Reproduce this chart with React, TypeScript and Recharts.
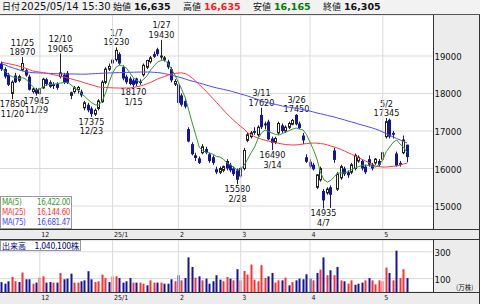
import { ComposedChart, Bar, Line, XAxis, YAxis, CartesianGrid, ReferenceLine } from "recharts";

// trading days on screen, 2024/11/15 .. 2025/05/14
const dates = [
  "11/15", "11/18", "11/19", "11/20", "11/21", "11/22", "11/25", "11/26", "11/27", "11/28", "11/29",
  "12/2", "12/3", "12/4", "12/5", "12/6", "12/9", "12/10", "12/11", "12/12", "12/13",
  "12/16", "12/17", "12/18", "12/19", "12/20", "12/23", "12/24", "12/25", "12/26", "12/27",
  "12/30", "1/6", "1/7", "1/8", "1/9", "1/10", "1/14", "1/15", "1/16", "1/17",
  "1/20", "1/21", "1/22", "1/23", "1/24", "1/27", "1/28", "1/29", "1/30", "1/31",
  "2/3", "2/4", "2/5", "2/6", "2/7", "2/10", "2/12", "2/13", "2/14", "2/17",
  "2/18", "2/19", "2/20", "2/21", "2/25", "2/26", "2/27", "2/28", "3/3", "3/4",
  "3/5", "3/6", "3/7", "3/10", "3/11", "3/12", "3/13", "3/14", "3/17", "3/18",
  "3/19", "3/21", "3/24", "3/25", "3/26", "3/27", "3/28", "3/31", "4/1", "4/2",
  "4/3", "4/4", "4/7", "4/8", "4/9", "4/10", "4/11", "4/14", "4/15", "4/16",
  "4/17", "4/18", "4/21", "4/22", "4/23", "4/24", "4/25", "4/28", "4/30", "5/1",
  "5/2", "5/7", "5/8", "5/9", "5/12", "5/13", "5/14",
];

const opens = [
  18800, 18650, 18500, 18000, 18480, 18350, 18630, 18620, 18450, 18050, 18100,
  18000, 18150, 18380, 18300, 18250, 18250, 18450, 18500, 18550, 17950,
  18050, 18100, 18050, 17620, 17700, 17600, 17450, 17600, 17780, 18300,
  18650, 18900, 18900, 19050, 18700, 18450, 18400, 18350, 18400, 18320,
  18500, 18700, 18850, 19050, 19180, 18980, 18900, 18850, 18650, 18250,
  18250, 17950, 17800, 17050, 16650, 16350, 16270, 16420, 16520, 16380,
  16300, 15980, 15900, 15950, 16200, 16100, 16000, 15950, 15800, 16000,
  16750, 16850, 17000, 16900, 17430, 17200, 17250, 16800, 16700, 16950,
  17150, 17000, 17100, 17180, 17430, 17200, 16880, 16300, 16180, 16100,
  15500, 15700, 15400, 15350, 15500, 16480, 15450, 15750, 16000, 15900,
  15900, 16000, 16200, 16200, 16050, 16250, 16100, 16150, 16200, 16250,
  16850, 17300, 16950, 16400, 16150, 16420, 16635,
];

const highs = [
  18850, 18700, 18550, 18350, 18550, 18500, 18970, 18680, 18500, 18150, 18150,
  18150, 18420, 18420, 18350, 18300, 18300, 19065, 18550, 18600, 18050,
  18200, 18200, 18100, 17800, 17750, 17650, 17600, 17850, 18350, 18700,
  18800, 18950, 19230, 19100, 18750, 18500, 18450, 18400, 18420, 18380,
  18800, 18900, 19000, 19120, 19220, 19430, 19000, 18900, 18700, 18380,
  18300, 18000, 17850, 17100, 16700, 16420, 16320, 16650, 16580, 16420,
  16350, 16050, 16050, 16080, 16250, 16150, 16050, 16000, 16050, 16550,
  16950, 17000, 17100, 17150, 17620, 17250, 17300, 16850, 16850, 17250,
  17200, 17150, 17250, 17320, 17450, 17250, 16950, 16380, 16250, 16150,
  15850, 16050, 15450, 15500, 15550, 16550, 15900, 16100, 16050, 15950,
  16150, 16400, 16350, 16250, 16100, 16350, 16150, 16280, 16250, 16450,
  17345, 17330, 17000, 16450, 16200, 16880, 16635,
];

const lows = [
  18600, 18400, 18200, 17850, 18280, 18300, 18600, 18450, 18080, 18000, 17945,
  17980, 18120, 18200, 18150, 18120, 18100, 18400, 18250, 18250, 17850,
  18000, 18000, 17900, 17550, 17500, 17375, 17400, 17550, 17750, 18250,
  18600, 18700, 18850, 18750, 18350, 18250, 18220, 18170, 18200, 18230,
  18450, 18650, 18800, 18950, 19000, 18900, 18850, 18650, 18300, 18200,
  17700, 17650, 17600, 16700, 16350, 16200, 16120, 16380, 16380, 16150,
  16100, 15850, 15850, 15900, 15950, 15900, 15800, 15580, 15750, 15950,
  16700, 16800, 16900, 16850, 17050, 17050, 16750, 16490, 16650, 16900,
  16950, 16950, 17050, 17150, 17150, 17050, 16650, 16150, 16000, 15950,
  15450, 15650, 14935, 15300, 14950, 16150, 15400, 15700, 15800, 15750,
  15850, 15950, 16150, 15950, 15850, 16050, 15950, 16100, 16050, 16200,
  16800, 16800, 16800, 16050, 16050, 16380, 16165,
];

const closes = [
  18650, 18450, 18230, 18300, 18300, 18450, 18800, 18480, 18100, 18120, 18000,
  18120, 18380, 18250, 18180, 18200, 18150, 18550, 18300, 18280, 18020,
  18150, 18160, 17950, 17750, 17550, 17450, 17550, 17800, 18300, 18650,
  18720, 18800, 19150, 18800, 18400, 18300, 18250, 18230, 18260, 18280,
  18750, 18880, 18950, 18980, 19050, 19000, 18950, 18700, 18350, 18320,
  17750, 17700, 17650, 16720, 16380, 16280, 16150, 16580, 16420, 16200,
  16150, 15900, 16000, 16050, 16000, 15950, 15850, 15700, 16000, 16480,
  16900, 16950, 16950, 17100, 17100, 17150, 16780, 16680, 16800, 17200,
  17000, 17100, 17200, 17280, 17180, 17080, 16750, 16180, 16050, 15980,
  15830, 16000, 15150, 15450, 15300, 16230, 15850, 16050, 15850, 15820,
  16100, 16350, 16300, 16000, 15900, 16100, 16000, 16250, 16100, 16420,
  17250, 16850, 16900, 16080, 16100, 16760, 16305,
];

const ma5 = [
  18650, 18600, 18500, 18450, 18420, 18400, 18420, 18380, 18280, 18180, 18093,
  18120, 18180, 18227, 18240, 18250, 18260, 18280, 18290, 18300, 18230,
  18150, 18093, 18000, 17920, 17827, 17750, 17700, 17693, 17800, 18013,
  18300, 18547, 18700, 18760, 18730, 18680, 18550, 18420, 18340, 18307,
  18380, 18480, 18627, 18740, 18840, 18880, 18893, 18800, 18650, 18493,
  18300, 18100, 17880, 17550, 17213, 16900, 16573, 16480, 16430, 16413,
  16380, 16320, 16307, 16250, 16150, 16093, 16030, 15960, 15990, 16093,
  16250, 16420, 16573, 16800, 16950, 17027, 16990, 16947, 16910, 16893,
  16930, 16973, 17010, 17050, 17080, 17050, 17027, 16900, 16700, 16500,
  16250, 15900, 15700, 15640, 15680, 15780, 15880, 15880, 15880, 15920,
  15970, 16013, 16050, 16080, 16093, 16080, 16060, 16040, 16100, 16227,
  16450, 16573, 16700, 16760, 16650, 16573, 16422,
];

const ma25 = [
  18830, 18813, 18795, 18775, 18755, 18733, 18700, 18670, 18635, 18600, 18585,
  18570, 18555, 18540, 18520, 18500, 18480, 18460, 18440, 18413, 18390,
  18365, 18340, 18315, 18280, 18255, 18230, 18200, 18173, 18165, 18160,
  18155, 18150, 18147, 18145, 18145, 18147, 18147, 18160, 18180, 18200,
  18227, 18260, 18295, 18340, 18387, 18420, 18455, 18490, 18520, 18535,
  18545, 18550, 18530, 18480, 18410, 18330, 18240, 18150, 18060, 17960,
  17860, 17760, 17660, 17560, 17460, 17370, 17280, 17200, 17120, 17050,
  16950, 16900, 16850, 16810, 16780, 16755, 16730, 16707, 16690, 16670,
  16653, 16640, 16632, 16627, 16630, 16640, 16653, 16665, 16675, 16680,
  16675, 16665, 16653, 16630, 16600, 16573, 16540, 16505, 16467, 16420,
  16380, 16333, 16290, 16245, 16200, 16155, 16110, 16067, 16050, 16040,
  16040, 16050, 16060, 16067, 16090, 16120, 16145,
];

const ma75 = [
  18787, 18760, 18720, 18690, 18660, 18630, 18600, 18580, 18565, 18555, 18550,
  18547, 18545, 18540, 18535, 18530, 18528, 18525, 18522, 18520, 18520,
  18520, 18518, 18515, 18515, 18520, 18525, 18530, 18535, 18540, 18545,
  18547, 18550, 18555, 18558, 18560, 18562, 18565, 18567, 18570, 18572,
  18573, 18573, 18570, 18565, 18558, 18547, 18530, 18510, 18490, 18465,
  18440, 18415, 18385, 18355, 18330, 18307, 18280, 18255, 18225, 18200,
  18173, 18150, 18130, 18110, 18090, 18067, 18040, 18015, 17985, 17960,
  17933, 17900, 17870, 17835, 17805, 17773, 17750, 17730, 17710, 17690,
  17667, 17650, 17635, 17620, 17605, 17587, 17570, 17550, 17530, 17505,
  17480, 17460, 17440, 17415, 17395, 17373, 17345, 17320, 17295, 17265,
  17240, 17215, 17185, 17160, 17135, 17107, 17080, 17050, 17015, 16973,
  16930, 16885, 16840, 16800, 16760, 16720, 16681,
];

// volume in 万株
const volumes = [
  74, 62, 80, 112, 80, 74, 145, 95, 95, 62, 70,
  107, 117, 70, 74, 70, 70, 142, 95, 100, 137,
  70, 70, 80, 87, 155, 95, 74, 80, 130, 104,
  74, 117, 117, 104, 70, 80, 104, 70, 70, 70,
  62, 50, 87, 70, 70, 70, 62, 62, 95, 80,
  125, 87, 104, 258, 187, 107, 117, 87, 100, 62,
  80, 125, 92, 80, 112, 100, 87, 170, 87, 157,
  130, 205, 92, 80, 200, 104, 117, 142, 70, 87,
  87, 107, 50, 74, 87, 100, 95, 132, 100, 87,
  142, 167, 258, 125, 162, 125, 187, 87, 80, 62,
  87, 54, 62, 70, 87, 104, 87, 57, 87, 80,
  182, 142, 87, 308, 104, 170, 104,
];

// 1 = red bar (closed above the day before)
const volUp = [
  0, 0, 0, 1, 1, 0, 1, 0, 0, 1, 0,
  1, 1, 0, 0, 1, 0, 1, 0, 0, 0,
  1, 1, 0, 0, 0, 0, 1, 1, 1, 1,
  0, 1, 1, 0, 0, 0, 0, 1, 0, 1,
  1, 0, 1, 1, 0, 1, 0, 0, 0, 1,
  0, 1, 0, 0, 0, 1, 0, 1, 0, 0,
  0, 0, 0, 1, 1, 0, 1, 0, 1, 1,
  1, 1, 1, 1, 1, 1, 0, 0, 1, 1,
  0, 1, 0, 1, 0, 0, 0, 0, 0, 1,
  0, 1, 0, 1, 0, 1, 0, 1, 0, 1,
  1, 0, 0, 0, 1, 0, 1, 1, 1, 1,
  1, 0, 1, 0, 1, 1, 0,
];

const monthStarts = ["12/2", "1/6", "2/3", "3/3", "4/1", "5/1"];
const monthLabels = ["12", "25/1", "2", "3", "4", "5"];
const priceTicks = [15000, 16000, 17000, 18000, 19000];
const volTicks = [100, 200, 300];
const highMarks = ["11/25", "12/10", "1/7", "1/27", "3/11", "3/26", "5/2"];
const lowMarks = ["11/20", "11/29", "12/23", "1/15", "2/28", "3/14", "4/7"];
const emptySlots = 7;

const FONT = "'DejaVu Sans Condensed', 'DejaVu Sans', sans-serif";
const JP = "'Noto Sans CJK JP', 'Noto Sans', sans-serif";
const DOWN = "#15159a";
const UP_LINE = "#222222";
const VOL_RED = "#ff3030";
const GRID = "#dadada";
const MA5_C = "#339933";
const MA25_C = "#ff3a3a";
const MA75_C = "#4a4aff";

const data = [
  ...dates.map((d, j) => ({
    d,
    o: opens[j],
    h: highs[j],
    l: lows[j],
    c: closes[j],
    range: [lows[j], highs[j]],
    ma5: ma5[j],
    ma25: ma25[j],
    ma75: ma75[j],
    v: volumes[j],
    up: volUp[j] === 1,
  })),
  ...Array.from({ length: emptySlots }, (_, k) => ({ d: `pad${k}` })),
];

const Candle = (props: any) => {
  const { x, y, width, height, payload } = props;
  if (!payload || payload.o == null || height == null) return null;
  const { o, h, l, c, d } = payload;
  const n = Math.round(x + width / 2 - 0.5);
  const cx = n + 0.5;
  const py = (p: number) => y + ((h - p) / (h - l)) * height;
  const top = py(Math.max(o, c));
  const bodyH = Math.max(1, py(Math.min(o, c)) - top);
  const up = c >= o;
  return (
    <g>
      <line x1={cx} x2={cx} y1={y} y2={y + height} stroke={up ? UP_LINE : DOWN} strokeWidth={1} />
      {up ? (
        <rect x={n - 0.5} y={top} width={2} height={bodyH} fill="#fff" stroke={UP_LINE} strokeWidth={1} />
      ) : (
        <rect x={n - 1} y={top} width={3} height={bodyH} fill={DOWN} />
      )}
      {highMarks.includes(d) && (
        <g fontSize={9} fontFamily={FONT} fill="#111" textAnchor="middle">
          <text x={cx} y={y - 11.5}>{d}</text>
          <text x={cx} y={y - 2}>{h}</text>
        </g>
      )}
      {lowMarks.includes(d) && (
        <g fontSize={9} fontFamily={FONT} fill="#111" textAnchor="middle">
          <text x={cx} y={y + height + 8}>{l}</text>
          <text x={cx} y={y + height + 17.5}>{d}</text>
        </g>
      )}
    </g>
  );
};

const VolBar = (props: any) => {
  const { x, y, width, height, payload } = props;
  if (!payload || payload.v == null || height == null) return null;
  const n = Math.round(x + width / 2 - 0.5);
  return <rect x={n - 0.5} y={y} width={2} height={height} fill={payload.up ? VOL_RED : DOWN} />;
};

const AxisTick = (props: any) => (
  <text x={434.5} y={props.y + 4} fontSize={9.5} fontFamily={FONT} fill="#111">
    {props.payload.value}
  </text>
);

const MonthTick = (props: any) => {
  const k = monthStarts.indexOf(props.payload.value);
  if (k < 0) return <g />;
  return (
    <text x={props.x + 1.5} y={props.baseY} fontSize={7} fontFamily={FONT} fill="#111">
      {monthLabels[k]}
    </text>
  );
};

const legendRows = [
  { name: "MA(5)", value: "16,422.00", color: MA5_C },
  { name: "MA(25)", value: "16,144.60", color: MA25_C },
  { name: "MA(75)", value: "16,681.47", color: MA75_C },
];

const headerItems = [
  { label: "始値", value: "16,635", color: "#111", x: 113 },
  { label: "高値", value: "16,635", color: "#ff1a1a", x: 183 },
  { label: "安値", value: "16,165", color: "#007a00", x: 253 },
  { label: "終値", value: "16,305", color: "#111", x: 323 },
];

const abs = (left: number, top: number, width: number, height: number, extra: any = {}) => ({
  position: "absolute" as const,
  left,
  top,
  width,
  height,
  ...extra,
});

export default function App() {
  return (
    <div style={{ position: "relative", width: 480, height: 304, background: "#ececec", overflow: "hidden" }}>
      <style>{"body{margin:0}"}</style>

      {/* panel backgrounds */}
      <div style={abs(0, 15, 433, 214, { background: "#fff" })} />
      <div style={abs(0, 240, 433, 52, { background: "#fff" })} />

      <div style={abs(0, 15, 480, 225)}>
        <ComposedChart width={480} height={225} data={data} margin={{ top: 0, right: 0, bottom: 0, left: 0 }}>
          <CartesianGrid vertical={false} stroke={GRID} />
          <XAxis dataKey="d" interval={0} height={11} axisLine={false} tickLine={false} tick={<MonthTick baseY={221.5} />} />
          <YAxis
            orientation="right"
            width={47}
            domain={[14387, 20093]}
            allowDataOverflow
            ticks={priceTicks}
            axisLine={false}
            tickLine={false}
            tick={<AxisTick />}
          />
          {monthStarts.map((m) => (
            <ReferenceLine key={m} x={m} stroke={GRID} />
          ))}
          <Bar dataKey="range" shape={<Candle />} isAnimationActive={false} />
          <Line dataKey="ma75" stroke={MA75_C} strokeWidth={1} dot={false} activeDot={false} isAnimationActive={false} />
          <Line dataKey="ma25" stroke={MA25_C} strokeWidth={1} dot={false} activeDot={false} isAnimationActive={false} />
          <Line dataKey="ma5" stroke={MA5_C} strokeWidth={1} dot={false} activeDot={false} isAnimationActive={false} />
        </ComposedChart>
      </div>

      <div style={abs(0, 240, 480, 64)}>
        <ComposedChart width={480} height={64} data={data} margin={{ top: 0, right: 0, bottom: 0, left: 0 }}>
          <CartesianGrid vertical={false} stroke={GRID} />
          <XAxis dataKey="d" interval={0} height={12} axisLine={false} tickLine={false} tick={<MonthTick baseY={60} />} />
          <YAxis
            orientation="right"
            width={47}
            domain={[0, 388]}
            allowDataOverflow
            ticks={volTicks}
            axisLine={false}
            tickLine={false}
            tick={<AxisTick />}
          />
          {monthStarts.map((m) => (
            <ReferenceLine key={m} x={m} stroke={GRID} />
          ))}
          <Bar dataKey="v" shape={<VolBar />} isAnimationActive={false} />
        </ComposedChart>
      </div>

      {/* frame lines */}
      <div style={abs(433, 15, 1, 214, { background: "#333" })} />
      <div style={abs(433, 240, 1, 52, { background: "#333" })} />
      <div style={abs(0, 229, 480, 1, { background: "#333" })} />
      <div style={abs(0, 239, 480, 1, { background: "#333" })} />
      <div style={abs(0, 292, 480, 1, { background: "#333" })} />
      <div style={abs(479, 0, 1, 304, { background: "#333" })} />

      {/* header */}
      <div style={abs(0, 0, 480, 14, { background: "#f2f2f2", borderBottom: "1px solid #555" })}>
        <span style={{ position: "absolute", left: 2, top: 1, fontFamily: JP, fontSize: 9, lineHeight: "12px", color: "#111" }}>日付</span>
        <span style={{ position: "absolute", left: 21, top: 1, fontFamily: "'DejaVu Sans'", fontSize: 10, lineHeight: "12px", color: "#111" }}>
          2025/05/14 15:30
        </span>
        {headerItems.map((it) => (
          <span key={it.label}>
            <span style={{ position: "absolute", left: it.x, top: 1, fontFamily: JP, fontSize: 9, lineHeight: "12px", color: "#111" }}>
              {it.label}
            </span>
            <span
              style={{
                position: "absolute",
                left: it.x + 21,
                top: 1,
                fontFamily: "'DejaVu Sans'",
                fontWeight: 700,
                fontSize: 9.5,
                lineHeight: "12px",
                color: it.color,
              }}
            >
              {it.value}
            </span>
          </span>
        ))}
      </div>

      {/* MA legend */}
      <div style={abs(0, 196, 72, 33, { background: "#fff", border: "1px solid #999", boxSizing: "border-box" })}>
        {legendRows.map((r, k) => (
          <div
            key={r.name}
            style={{
              position: "absolute",
              left: 1,
              right: 1,
              top: 1 + k * 10,
              height: 10,
              lineHeight: "10px",
              fontSize: 8,
              letterSpacing: -0.4,
              fontFamily: FONT,
              color: r.color,
            }}
          >
            <span>{r.name}</span>
            <span style={{ position: "absolute", right: 0 }}>{r.value}</span>
          </div>
        ))}
      </div>

      {/* volume label */}
      <div style={abs(0, 240, 81, 11, { background: "#fff", border: "1px solid #999", boxSizing: "border-box" })}>
        <span style={{ position: "absolute", left: 1, top: -1, fontFamily: JP, fontSize: 8, lineHeight: "11px", color: "#000080" }}>
          出来高
        </span>
        <span
          style={{
            position: "absolute",
            right: 1,
            top: -1,
            fontFamily: FONT,
            fontSize: 8.5,
            letterSpacing: -0.3,
            lineHeight: "11px",
            color: "#000080",
          }}
        >
          1,040,100<span style={{ fontFamily: JP }}>株</span>
        </span>
      </div>
      <span style={{ position: "absolute", left: 456, top: 283, fontFamily: JP, fontSize: 6.5, lineHeight: "8px", color: "#111" }}>
        (万株)
      </span>
    </div>
  );
}
